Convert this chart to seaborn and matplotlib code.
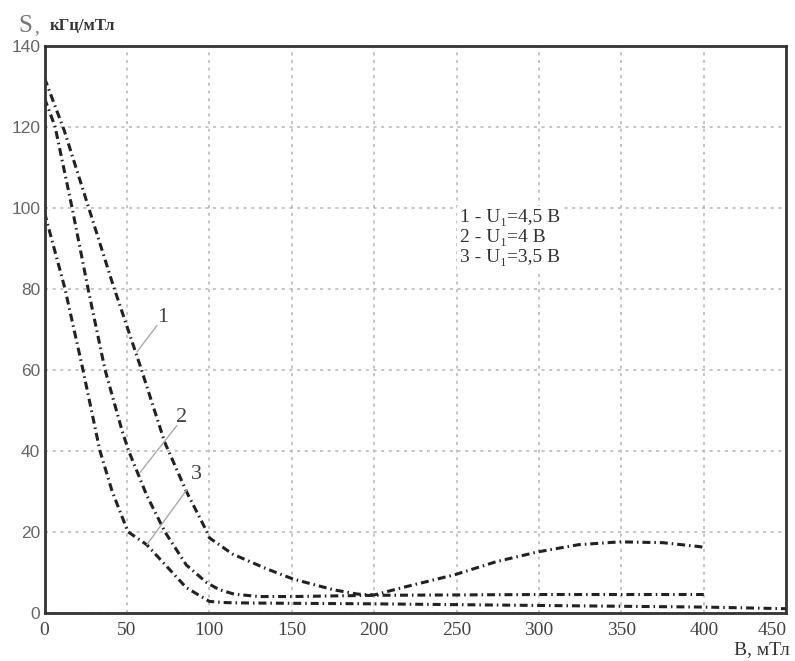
import matplotlib
matplotlib.use("Agg")
import matplotlib.pyplot as plt
import pandas as pd
import seaborn as sns

# curve 1: U1 = 4,5 B
b_1 = [0, 12, 26, 41.5, 58, 73, 86, 98.5, 100, 114, 135, 151, 175, 190, 200,
       219, 249, 274, 299, 324, 349, 375, 398, 400]
s_1 = [132, 119, 101, 81, 61, 42, 30, 20, 18.5, 14.5, 10.8, 8.3, 5.7, 4.6, 4.4,
       6.4, 9.4, 12.6, 15, 16.8, 17.5, 17.3, 16.3, 16.0]
# curve 2: U1 = 4 B
b_2 = [0, 6.4, 16.7, 26.4, 36.7, 47, 51, 62, 73, 86, 98.5, 106, 115, 130,
       150, 200, 250, 300, 350, 400]
s_2 = [127, 120, 100, 80, 60, 45, 40, 29, 20, 11.8, 7.4, 5.7, 4.6, 4.0,
       4.0, 4.3, 4.4, 4.5, 4.5, 4.5]
# curve 3: U1 = 3,5 B
b_3 = [0, 12.4, 23.3, 33.6, 41, 50.6, 62, 74, 86, 100, 110, 125, 200, 300, 400, 450]
s_3 = [98.8, 80, 60, 40, 30, 20, 16.8, 11.5, 6.2, 2.8, 2.5, 2.4, 2.2, 1.8, 1.4, 1.0]

curve_labels = ["1", "2", "3"]
legend_lines = ["1 - U₁=4,5 В", "2 - U₁=4 В", "3 - U₁=3,5 В"]
x_ticks = [0, 50, 100, 150, 200, 250, 300, 350, 400, 450]
y_ticks = [0, 20, 40, 60, 80, 100, 120, 140]

sns.set_theme(style="white")
serif = ["Liberation Serif", "DejaVu Serif"]

df = pd.concat([
    pd.DataFrame({"B": b_1, "S": s_1, "curve": "1"}),
    pd.DataFrame({"B": b_2, "S": s_2, "curve": "2"}),
    pd.DataFrame({"B": b_3, "S": s_3, "curve": "3"}),
])

fig = plt.figure(figsize=(7.95, 6.61), dpi=100)
ax = fig.add_axes([0.056, 0.073, 0.933, 0.858])

for name, part in df.groupby("curve"):
    sns.lineplot(data=part, x="B", y="S", ax=ax, sort=False, estimator=None,
                 color="#222222", lw=2.2, linestyle=(0, (2.6, 1.3, 0.5, 1.3)))

ax.set_xlim(0, 450)
ax.set_ylim(0, 140)
ax.set_xticks(x_ticks)
ax.set_yticks(y_ticks)
ax.grid(True, color="#b5b5b5", lw=1.1, linestyle=(0, (2, 3)))
ax.set_axisbelow(True)
for sp in ax.spines.values():
    sp.set_color("#333333")
    sp.set_linewidth(2)
ax.tick_params(length=0)
ax.tick_params(axis="x", pad=7)
ax.tick_params(axis="y", pad=3)
for t in ax.get_xticklabels():
    t.set_family(serif)
    t.set_fontsize(14)
    t.set_color("#444444")
ax.get_xticklabels()[-1].set_horizontalalignment("right")
for t in ax.get_yticklabels():
    t.set_family(["Liberation Sans", "DejaVu Sans"])
    t.set_fontsize(12.5)
    t.set_color("#666666")
ax.set_xlabel("")
ax.set_ylabel("")

# curve number labels with leader lines
leaders = [((56.1, 64.4), (68.2, 70.9), (71.8, 72.9)),
           ((57.9, 34.6), (80.3, 46.2), (83.3, 48.1)),
           ((62.1, 16.8), (86.4, 30.4), (92.4, 34.1))]
for lab, (p0, p1, pt) in zip(curve_labels, leaders):
    ax.plot([p0[0], p1[0]], [p0[1], p1[1]], color="#aaaaaa", lw=1)
    ax.text(pt[0], pt[1], lab, family=serif, fontsize=16, color="#444444",
            ha="center", va="center")

ax.text(252, 92.6, "\n".join(legend_lines), family=serif, fontsize=14,
        color="#333333", ha="left", va="center", linespacing=1.25,
        bbox=dict(facecolor="white", edgecolor="none", pad=2))

fig.text(18 / 795, 1 - 32 / 661, "S", family=serif, fontsize=18,
         color="#777777", ha="left", va="baseline")
fig.text(34 / 795, 1 - 32 / 661, ",", family=serif, fontsize=14,
         color="#777777", ha="left", va="baseline")
fig.text(50 / 795, 1 - 30 / 661, "кГц/мТл", family=serif, fontsize=12,
         weight="bold", color="#333333", ha="left", va="baseline")
fig.text(790 / 795, 1 - 654 / 661, "В, мТл", family=serif, fontsize=14,
         color="#333333", ha="right", va="baseline")

fig.savefig("out.png", dpi=100)
